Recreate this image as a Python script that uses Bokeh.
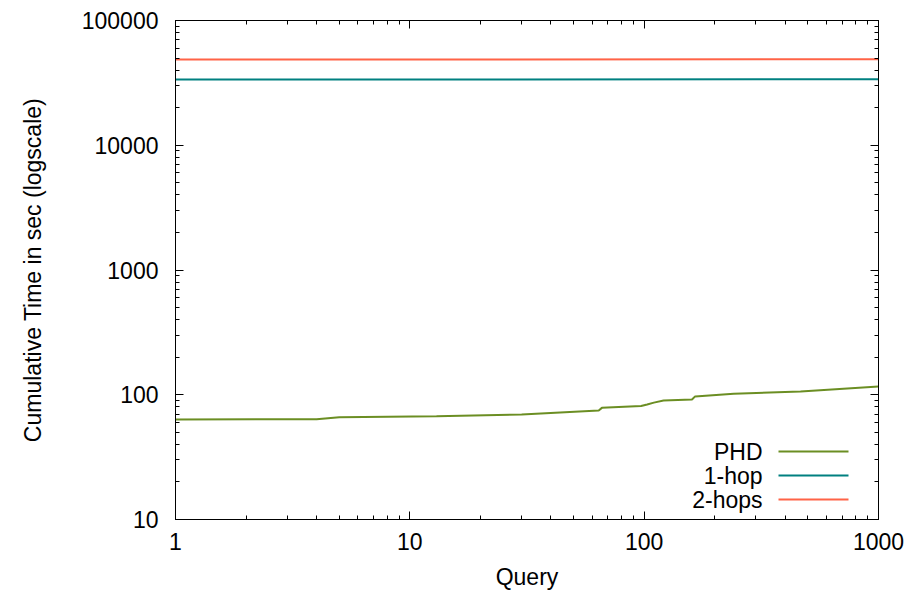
from bokeh.plotting import figure
from bokeh.models import LogAxis, FixedTicker, Label, BoxAnnotation, Range1d, CustomJSTickFormatter
from bokeh.embed import file_html
from bokeh.resources import INLINE

# Cumulative time (s) against query number
query_phd = [1, 4.0, 5.0, 13, 30, 64, 66, 97, 103, 110, 121, 160, 165, 241, 465, 1000]
time_phd = [63.4, 63.6, 66.0, 67.3, 69.5, 74.8, 78.5, 81.2, 83.5, 86.5, 89.9, 91.6, 97.0, 101.8, 106.0, 116.5]

query_1hop = [1, 1000]
time_1hop = [33600, 33800]

query_2hops = [1, 1000]
time_2hops = [48600, 48900]

series_names = ["PHD", "1-hop", "2-hops"]
series_colors = ["#6b8e23", "#008080", "#ff6347"]

x_ticks = [1, 10, 100, 1000]
y_ticks = [10, 100, 1000, 10000, 100000]


def minor_between(major):
    out = []
    for m in major[:-1]:
        out += [m * k for k in range(2, 10)]
    return out


FONT = "Liberation Sans"
FS = "23px"

p = figure(
    frame_width=703, frame_height=499,
    x_axis_type="log", y_axis_type="log",
    x_range=Range1d(1, 1000), y_range=Range1d(10, 100000),
    output_backend="svg", toolbar_location=None,
    min_border_left=175, min_border_right=36,
    min_border_top=20, min_border_bottom=74,
    x_axis_label="Query", y_axis_label="Cumulative Time in sec (logscale)",
)
p.background_fill_color = "white"
p.border_fill_color = "white"
p.outline_line_color = "black"
p.outline_line_width = 1
p.grid.visible = False

bottom_axis = p.below[0]
left_axis = p.left[0]
top_axis = LogAxis()
right_axis = LogAxis()
p.add_layout(top_axis, "above")
p.add_layout(right_axis, "right")

bottom_axis.ticker = FixedTicker(ticks=x_ticks, minor_ticks=minor_between(x_ticks))
top_axis.ticker = FixedTicker(ticks=x_ticks, minor_ticks=minor_between(x_ticks))
left_axis.ticker = FixedTicker(ticks=y_ticks, minor_ticks=minor_between(y_ticks))
right_axis.ticker = FixedTicker(ticks=y_ticks, minor_ticks=minor_between(y_ticks))

for ax in [bottom_axis, left_axis, top_axis, right_axis]:
    ax.major_tick_in = 8
    ax.major_tick_out = 0
    ax.minor_tick_in = 4
    ax.minor_tick_out = 0
    ax.axis_line_color = "black"
    ax.major_tick_line_color = "black"
    ax.minor_tick_line_color = "black"
    ax.major_label_text_font = FONT
    ax.major_label_text_font_size = FS
    ax.major_label_text_color = "black"
    ax.axis_label_text_font = FONT
    ax.axis_label_text_font_size = FS
    ax.axis_label_text_font_style = "normal"
    ax.axis_label_text_color = "black"

# plain number labels on the left and bottom axes; mirrored axes carry ticks only
bottom_axis.major_label_overrides = {v: str(v) for v in x_ticks}
left_axis.major_label_overrides = {v: str(v) for v in y_ticks}
top_axis.formatter = CustomJSTickFormatter(code="return ''")
right_axis.formatter = CustomJSTickFormatter(code="return ''")
bottom_axis.major_label_standoff = 13
bottom_axis.axis_label_standoff = 11
left_axis.major_label_standoff = 17
left_axis.axis_label_standoff = 33

series = [(query_phd, time_phd), (query_1hop, time_1hop), (query_2hops, time_2hops)]
for (xs, ys), color in zip(series, series_colors):
    p.line(xs, ys, line_color=color, line_width=2)

# key in the lower right: name, then a sample stroke to its right
for i, (name, color) in enumerate(zip(series_names, series_colors)):
    yk = 68 - 24 * i
    p.add_layout(Label(x=587, y=yk, x_units="screen", y_units="screen", text=name,
                       text_align="right", text_baseline="middle",
                       text_font=FONT, text_font_size=FS, text_color="black"))
    p.add_layout(BoxAnnotation(left=603, right=673, bottom=yk - 1, top=yk + 1,
                               left_units="screen", right_units="screen",
                               bottom_units="screen", top_units="screen",
                               fill_color=color, fill_alpha=1, line_alpha=0))

open("out.html", "w").write(file_html(p, INLINE))
